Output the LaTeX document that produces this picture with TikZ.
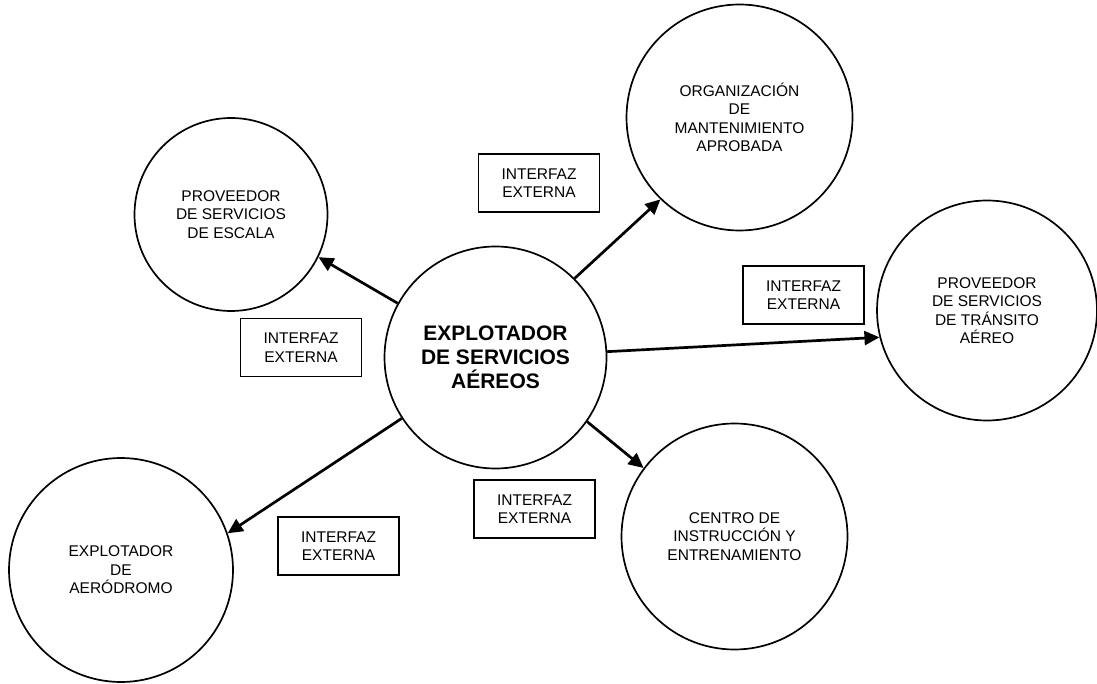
\documentclass[tikz,border=0pt]{standalone}
\usepackage{fontspec}
\setmainfont{Liberation Sans}
\usetikzlibrary{arrows.meta}

\tikzset{
  entity/.style={circle, draw=black, line width=1.7pt, inner sep=0pt,
    align=center, font=\fontsize{15.5}{18.5}\selectfont},
  hub/.style={entity, font=\fontsize{21}{24}\selectfont\bfseries},
  iface/.style={rectangle, draw=black, line width=1.7pt, inner sep=0pt,
    minimum width=121pt, minimum height=58pt, align=center,
    font=\fontsize{15.5}{18.5}\selectfont},
  link/.style={line width=2.7pt, -{Triangle[length=15pt,width=14pt]}}
}

\begin{document}
\begin{tikzpicture}[x=1pt, y=-1pt]
  \useasboundingbox (0,0) rectangle (1097,684);

  % operator in the middle
  \node[hub, minimum size=222pt] (op) at (495.5,357.5)
    {EXPLOTADOR\\DE SERVICIOS\\AÉREOS};

  % external organisations
  \node[entity, minimum size=193pt] (esc) at (231,214.5)
    {PROVEEDOR\\DE SERVICIOS\\DE ESCALA};
  \node[entity, minimum size=226pt] (omr) at (739.5,117.5)
    {ORGANIZACIÓN\\DE\\MANTENIMIENTO\\APROBADA};
  \node[entity, minimum size=220pt] (ats) at (987,310.5)
    {PROVEEDOR\\DE SERVICIOS\\DE TRÁNSITO\\AÉREO};
  \node[entity, minimum size=226pt] (cie) at (734.5,536.5)
    {CENTRO DE\\INSTRUCCIÓN Y\\ENTRENAMIENTO};
  \node[entity, minimum size=224pt] (aer) at (121,570)
    {EXPLOTADOR\\DE\\AERÓDROMO};

  % interface labels
  \node[iface] (i1) at (539,183)     {INTERFAZ\\EXTERNA};
  \node[iface] (i2) at (301,347.5)   {INTERFAZ\\EXTERNA};
  \node[iface] (i3) at (803.5,295)   {INTERFAZ\\EXTERNA};
  \node[iface] (i4) at (338.5,546)   {INTERFAZ\\EXTERNA};
  \node[iface] (i5) at (534.5,509)   {INTERFAZ\\EXTERNA};

  % relations
  \draw[link] (op.151) -- (esc.-26);
  \draw[link] (op.45)  -- (omr.226);
  \draw[link] (op.3)   -- (ats.194);
  \draw[link] (op.-35) -- (cie.143);
  \draw[link] (op.213) -- (aer.19);
\end{tikzpicture}
\end{document}
